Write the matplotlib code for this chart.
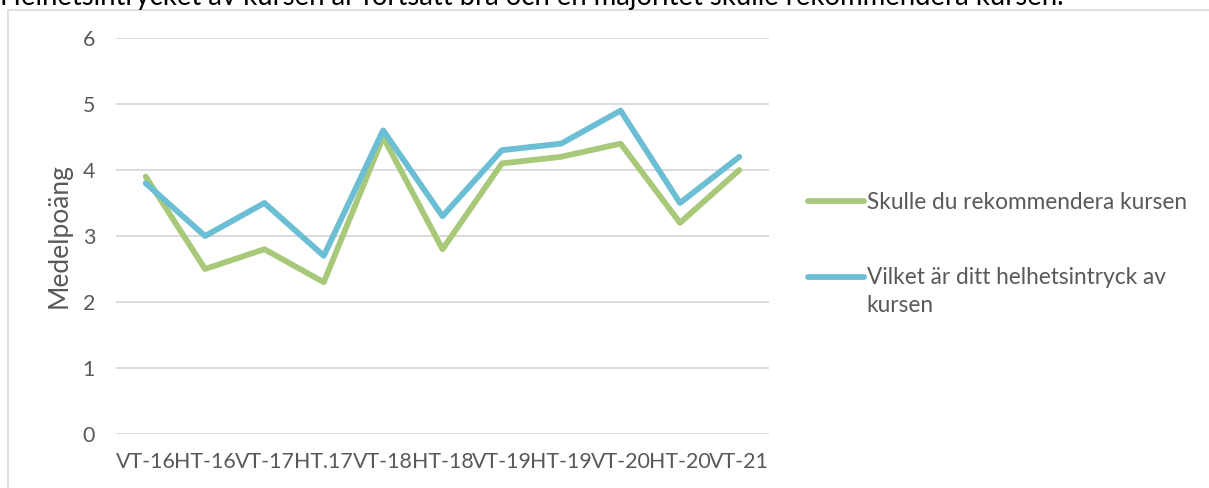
import matplotlib
matplotlib.use("Agg")
import matplotlib.pyplot as plt
from matplotlib.patches import Rectangle
from matplotlib.legend_handler import HandlerLine2D

categories = ["VT-16", "HT-16", "VT-17", "HT.17", "VT-18", "HT-18", "VT-19", "HT-19", "VT-20", "HT-20", "VT-21"]
skulle = [3.9, 2.5, 2.8, 2.3, 4.5, 2.8, 4.1, 4.2, 4.4, 3.2, 4.0]
helhet = [3.8, 3.0, 3.5, 2.7, 4.6, 3.3, 4.3, 4.4, 4.9, 3.5, 4.2]
series_names = ["Skulle du rekommendera kursen", "Vilket är ditt helhetsintryck av\nkursen"]
yticks = [0, 1, 2, 3, 4, 5, 6]
title = "Helhetsintrycket av kursen är fortsatt bra och en majoritet skulle rekommendera kursen."

plt.rcParams['font.family'] = ['Lato', 'DejaVu Sans']
TXT = "#595959"
GREEN = "#A9C97A"
BLUE = "#6CBED4"

W, H = 1209, 488
fig = plt.figure(figsize=(W / 100, H / 100), dpi=100)
fig.patch.set_facecolor("white")

# chart border
fig.patches.append(Rectangle((8 / W, -0.01), 1.1, 1 - 10 / H + 0.01, transform=fig.transFigure,
                             fill=False, edgecolor="#D9D9D9", linewidth=1.2))

# title text, cut off at the top edge as in the reference
fig.text(0 / W, 1 - 5 / H, title, ha="left", va="baseline", fontsize=19.8, color="black")

left, right = 116 / W, 769 / W
y0, y6 = 1 - 434 / H, 1 - 38 / H
ax = fig.add_axes([left, y0, right - left, y6 - y0])
x = list(range(len(categories)))
l1, = ax.plot(x, skulle, color=GREEN, linewidth=4.2, solid_joinstyle="round", solid_capstyle="round",
              label=series_names[0], zorder=3)
l2, = ax.plot(x, helhet, color=BLUE, linewidth=4.2, solid_joinstyle="round", solid_capstyle="round",
              label=series_names[1], zorder=3)

ax.set_xlim(-0.5, len(categories) - 0.5)
ax.set_ylim(0, 6)
ax.set_yticks(yticks)
ax.set_yticklabels([str(v) for v in yticks])
ax.set_xticks(x)
ax.set_xticklabels(categories)
ax.yaxis.grid(True, color="#D9D9D9", linewidth=1.3)
ax.set_axisbelow(True)
for s in ax.spines.values():
    s.set_visible(False)
ax.tick_params(axis="both", length=0, colors=TXT, labelsize=15.4)
ax.tick_params(axis="y", pad=15)
ax.tick_params(axis="x", pad=13)
ax.set_ylabel("Medelpoäng", color=TXT, fontsize=19, labelpad=8)


class TopLineHandler(HandlerLine2D):
    """Place the legend line next to the first line of a wrapped label."""
    def __init__(self, shift, **kw):
        super().__init__(**kw)
        self.shift = shift

    def create_artists(self, legend, orig_handle, xdescent, ydescent, width, height, fontsize, trans):
        arts = super().create_artists(legend, orig_handle, xdescent, ydescent, width, height, fontsize, trans)
        for a in arts:
            a.set_ydata([v + self.shift for v in a.get_ydata()])
        return arts


leg = fig.legend(loc="upper left", bbox_to_anchor=(788 / W, 1 - 172 / H), frameon=False,
                 fontsize=16.3, labelcolor=TXT, handlelength=2.45, handletextpad=0.12,
                 labelspacing=2.35, handler_map={l2: TopLineHandler(10.5)})
for ln in leg.get_lines():
    ln.set_linewidth(4.2)
    ln.set_solid_capstyle("round")
for t in leg.get_texts():
    t.set_linespacing(1.45)

fig.savefig("out.png", dpi=100)
